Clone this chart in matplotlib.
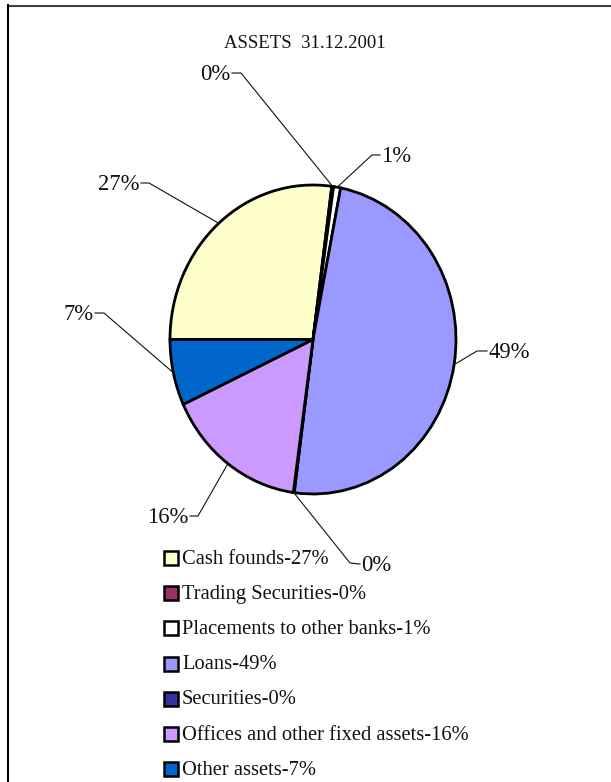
import matplotlib
matplotlib.use("Agg")
import matplotlib.pyplot as plt
from matplotlib.patches import Rectangle
import numpy as np

# Asset structure at 31.12.2001, shares in percent
title = "ASSETS  31.12.2001"
categories = [
    "Cash founds",
    "Trading Securities",
    "Placements to other banks",
    "Loans",
    "Securities",
    "Offices and other fixed assets",
    "Other assets",
]
shares = [27.1, 0.2, 0.8, 49.0, 0.1, 15.9, 6.9]
colors = ["#FFFFCC", "#993366", "#FFFFFF", "#9999FF", "#333399", "#CC99FF", "#0066CC"]

plt.rcParams["font.family"] = ["Liberation Serif", "DejaVu Serif"]

W, H = 611, 782
fig = plt.figure(figsize=(W / 100, H / 100), dpi=100)
fig.patch.set_facecolor("white")

# pie box in pixels: left, top, right, bottom
L, T, R, B = 170, 185, 456, 494
ax = fig.add_axes([L / W, 1 - B / H, (R - L) / W, (B - T) / H])
wedges, _ = ax.pie(
    shares,
    colors=colors,
    startangle=180,
    counterclock=False,
    wedgeprops=dict(edgecolor="black", linewidth=2.0),
)
for w in wedges:
    w.set_clip_on(False)
ax.set_aspect("auto")
ax.set_xlim(-1, 1)
ax.set_ylim(-1, 1)
ax.axis("off")

# overlay in pixel coordinates (origin top-left)
ov = fig.add_axes([0, 0, 1, 1], zorder=5)
ov.set_xlim(0, W)
ov.set_ylim(H, 0)
ov.axis("off")
ov.patch.set_alpha(0)


def to_px(x, y):
    d = ax.transData.transform((x, y))
    return ov.transData.inverted().transform(d)


# leader layout per slice: elbow point, end of the short tick, text alignment
label_layout = [
    ((149, 183), (141, 183), "right"),
    ((241, 73), (232, 73), "right"),
    ((372, 155), (380, 155), "left"),
    ((477, 351), (487, 351), "left"),
    ((350, 563), (360, 564), "left"),
    ((198, 516), (190, 516), "right"),
    ((104, 313), (95, 313), "right"),
]

for w, val, (elbow, tick, ha) in zip(wedges, shares, label_layout):
    mid = np.deg2rad((w.theta1 + w.theta2) / 2)
    ax_pt = to_px(np.cos(mid), np.sin(mid))
    ov.plot([ax_pt[0], elbow[0], tick[0]], [ax_pt[1], elbow[1], tick[1]],
            color="#111111", lw=0.8, clip_on=False)
    dx = 1.5 if ha == "left" else -1.5
    ov.text(tick[0] + dx, tick[1] + 1.5, f"{val:.0f}%", ha=ha, va="center",
            fontsize=16.3, color="#111111")

ov.text(305, 43, title, ha="center", va="center", fontsize=13.5, color="#111111")

# legend
for i, (name, val, c) in enumerate(zip(categories, shares, colors)):
    y = 558 + i * 35.2
    ov.add_patch(Rectangle((163.5, y - 7), 14, 14, facecolor=c, edgecolor="black",
                           lw=1.8, clip_on=False))
    ov.text(182, y + 1, f"{name}-{val:.0f}%", ha="left", va="center",
            fontsize=14.8, color="#111111")

# frame lines
ov.plot([8, W], [5.7, 5.7], color="#404040", lw=1.5, clip_on=False)
ov.plot([8, 8], [5, H], color="black", lw=1.5, clip_on=False)

fig.savefig("out.png", dpi=100, facecolor="white")
